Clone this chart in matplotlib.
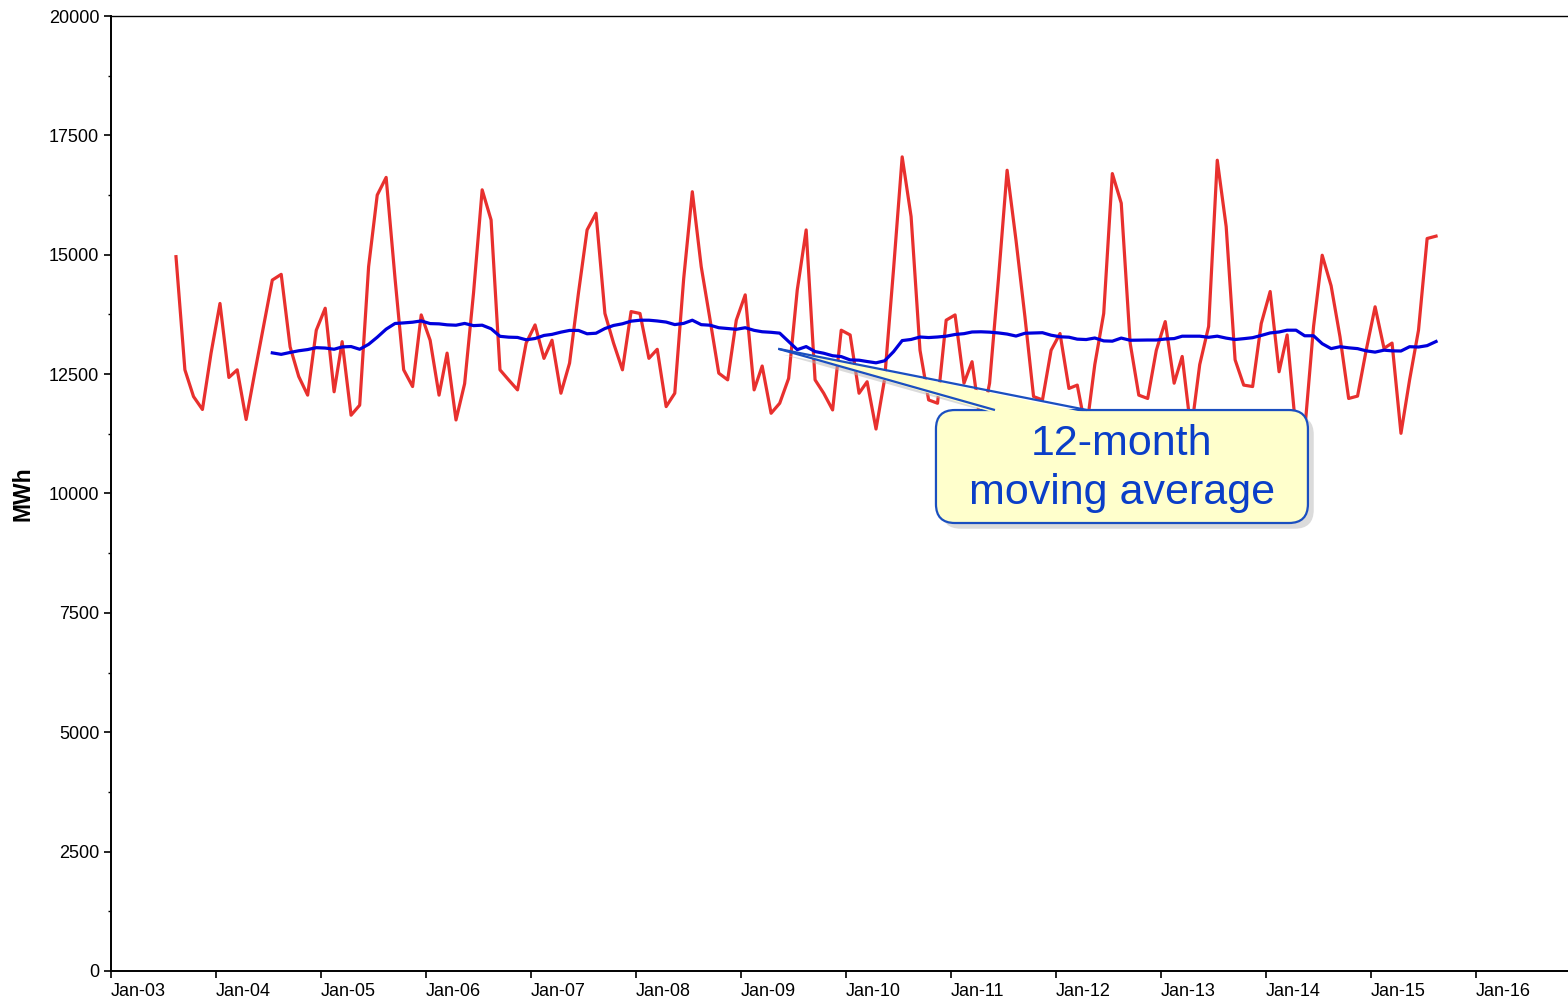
import datetime as dt
import numpy as np
import pandas as pd
import matplotlib
matplotlib.use("Agg")
from matplotlib import pyplot as plt
import matplotlib.dates as mdates
from matplotlib.patches import FancyBboxPatch, Polygon

plt.rcParams.update({'font.family': ['Liberation Sans', 'DejaVu Sans']})

# monthly energy, Aug-2003 .. Aug-2015 (MWh)
start_month = "2003-08"
mwh = [
    14960, 12590, 12030, 11760, 12940,
    13980, 12430, 12590, 11550, 12530, 13510, 14470, 14590, 13070, 12450, 12060, 13420,
    13880, 12130, 13180, 11640, 11850, 14750, 16250, 16620, 14500, 12590, 12240, 13740,
    13210, 12060, 12940, 11540, 12300, 14200, 16360, 15730, 12590, 12380, 12170, 13150,
    13530, 12830, 13210, 12100, 12730, 14200, 15520, 15870, 13770, 13150, 12590, 13810,
    13770, 12830, 13020, 11820, 12100, 14500, 16320, 14750, 13630, 12520, 12380, 13630,
    14160, 12170, 12670, 11680, 11890, 12410, 14260, 15520, 12380, 12100, 11750, 13420,
    13320, 12100, 12340, 11350, 12400, 14700, 17050, 15800, 13000, 11960, 11890, 13630,
    13740, 12310, 12760, 11400, 12310, 14500, 16770, 15300, 13700, 12030, 11960, 13000,
    13350, 12200, 12270, 11300, 12700, 13770, 16700, 16080, 13150, 12060, 11990, 13000,
    13600, 12310, 12870, 11300, 12700, 13500, 16980, 15590, 12800, 12270, 12240, 13560,
    14230, 12550, 13320, 11300, 11300, 13500, 14990, 14350, 13280, 11990, 12040, 13000,
    13910, 13040, 13150, 11260, 12380, 13420, 15340, 15390,
]
callout_point = (dt.date(2009, 5, 10), 13030)
callout_text = "12-month\nmoving average"

months = pd.period_range(start_month, periods=len(mwh), freq="M")
dates = [dt.date(p.year, p.month, 15) for p in months]
series = pd.Series(mwh, index=months, dtype=float)
moving_avg = series.rolling(12).mean()

fig = plt.figure(figsize=(15.68, 10.01), dpi=100)
ax = fig.add_axes([0.0708, 0.030, 0.9292, 0.954])

ax.plot(dates, series.values, color="#e8302e", lw=2.3, zorder=3)
ax.plot(dates, moving_avg.values, color="#0000dc", lw=2.3, zorder=4)

xmin = mdates.date2num(dt.date(2003, 1, 1))
xmax = mdates.date2num(dt.date(2016, 11, 16))
ymax = 20000
ax.set_xlim(xmin, xmax)
ax.set_ylim(0, ymax)

ax.xaxis.set_major_locator(mdates.YearLocator())
ax.xaxis.set_major_formatter(mdates.DateFormatter("%b-%y"))
ax.set_yticks(np.arange(0, 20001, 2500))
ax.set_yticks(np.arange(0, 20001, 1250), minor=True)
ax.tick_params(axis="both", which="major", labelsize=13, direction="out",
               length=5, width=1.2, colors="black")
ax.tick_params(axis="y", which="minor", length=2, width=1)
ax.tick_params(axis="x", which="major", pad=4)
for lab in ax.get_xticklabels():
    lab.set_horizontalalignment("left")

ax.spines["right"].set_visible(False)
ax.spines["left"].set_linewidth(1.4)
ax.spines["bottom"].set_linewidth(1.4)
ax.spines["top"].set_linewidth(1.0)
ax.set_ylabel("MWh", fontsize=16.5, fontweight="bold", labelpad=10)

# callout box pointing at the moving average
tip_x = (mdates.date2num(callout_point[0]) - xmin) / (xmax - xmin)
tip_y = callout_point[1] / ymax
bx0, bx1, by0, by1 = 0.5662, 0.8215, 0.4691, 0.5874
base_l, base_r = 0.6067, 0.6699
aspect = 1457 / 955
face = "#ffffcc"
edge = "#1a4fc0"

shadow = FancyBboxPatch((bx0 + 0.004, by0 - 0.006), bx1 - bx0, by1 - by0,
                        boxstyle="round,pad=0,rounding_size=0.013",
                        mutation_aspect=aspect, transform=ax.transAxes,
                        fc="#b8b8b8", ec="none", alpha=0.5, zorder=5)
ax.add_patch(shadow)
ax.add_patch(Polygon([(tip_x + 0.003, tip_y - 0.006), (base_l + 0.004, by1 - 0.006),
                      (base_r + 0.004, by1 - 0.006)], closed=True,
                     transform=ax.transAxes, fc="#b8b8b8", ec="none", alpha=0.5, zorder=5))
box = FancyBboxPatch((bx0, by0), bx1 - bx0, by1 - by0,
                     boxstyle="round,pad=0,rounding_size=0.013",
                     mutation_aspect=aspect, transform=ax.transAxes,
                     fc=face, ec=edge, lw=1.6, zorder=6)
ax.add_patch(box)
ax.add_patch(Polygon([(tip_x, tip_y), (base_l, by1 - 0.003), (base_r, by1 - 0.003)],
                     closed=True, transform=ax.transAxes, fc=face, ec="none", zorder=7))
ax.plot([tip_x, base_l], [tip_y, by1], color=edge, lw=1.6, transform=ax.transAxes,
        zorder=8, solid_capstyle="butt")
ax.plot([tip_x, base_r], [tip_y, by1], color=edge, lw=1.6, transform=ax.transAxes,
        zorder=8, solid_capstyle="butt")
ax.text((bx0 + bx1) / 2, (by0 + by1) / 2 - 0.002, callout_text, transform=ax.transAxes,
        ha="center", va="center", fontsize=31, color="#0a3ec8", linespacing=1.27,
        zorder=9)

plt.savefig("out.png", dpi=100)
